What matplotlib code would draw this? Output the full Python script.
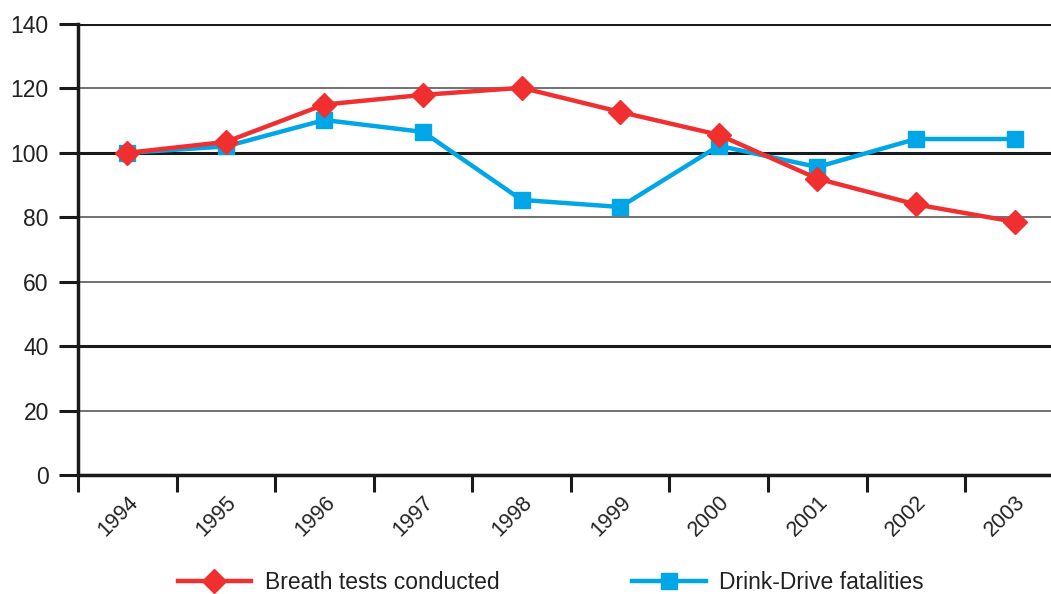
import matplotlib
matplotlib.use('Agg')
import matplotlib.pyplot as plt

# Jahre und Indexwerte (1994 = 100)
years = ['1994', '1995', '1996', '1997', '1998', '1999', '2000', '2001', '2002', '2003']
breath_tests = [100, 103.4, 115, 118, 120.2, 112.7, 105.6, 92, 84, 78.6]
fatalities = [100, 102, 110.2, 106.5, 85.4, 83.2, 102.2, 95.6, 104.3, 104.3]

yticks = [0, 20, 40, 60, 80, 100, 120, 140]
thick_lines = [0, 40, 100, 140]

plt.rcParams['font.family'] = ['Liberation Sans', 'DejaVu Sans']

fig = plt.figure(figsize=(10.51, 5.94), dpi=100)
ax = fig.add_axes([0.0742, 0.2003, 0.938, 0.7593])

x = list(range(len(years)))

for y in yticks:
    if y in thick_lines:
        ax.axhline(y, color='#1a1a1a', lw=2.2, zorder=1)
    else:
        ax.axhline(y, color='#4a4a4a', lw=1.1, zorder=1)

ax.plot(x, fatalities, color='#00a6e6', lw=3.2, marker='s', markersize=12,
        label='Drink-Drive fatalities', zorder=3)
ax.plot(x, breath_tests, color='#f03030', lw=3.2, marker='D', markersize=12,
        label='Breath tests conducted', zorder=4)

ax.set_xlim(-0.5, len(years) - 0.5)
ax.set_ylim(0, 140)
ax.set_yticks(yticks)
ax.tick_params(axis='y', length=14, width=2.2, labelsize=16.5, pad=7,
               color='#1a1a1a', labelcolor='#222222')

ax.set_xticks(x)
ax.set_xticklabels(years, rotation=45, ha='right', rotation_mode='anchor')
ax.set_xticks([i - 0.5 for i in range(len(years) + 1)], minor=True)
ax.tick_params(axis='x', which='major', length=0, labelsize=15.5, pad=12,
               labelcolor='#222222')
ax.tick_params(axis='x', which='minor', length=12, width=2.2, color='#1a1a1a')

for side in ['top', 'right']:
    ax.spines[side].set_visible(False)
ax.spines['left'].set_linewidth(2.5)
ax.spines['bottom'].set_linewidth(2.5)
ax.spines['left'].set_color('#1a1a1a')
ax.spines['bottom'].set_color('#1a1a1a')

handles, labels = ax.get_legend_handles_labels()
leg = fig.legend(handles[::-1], labels[::-1], loc='center', bbox_to_anchor=(0.524, 0.02),
                 ncol=2, frameon=False, fontsize=16.5, handlelength=3.2,
                 handletextpad=0.6, columnspacing=5.8)
for t in leg.get_texts():
    t.set_color('#222222')

fig.savefig('out.png', dpi=100)
